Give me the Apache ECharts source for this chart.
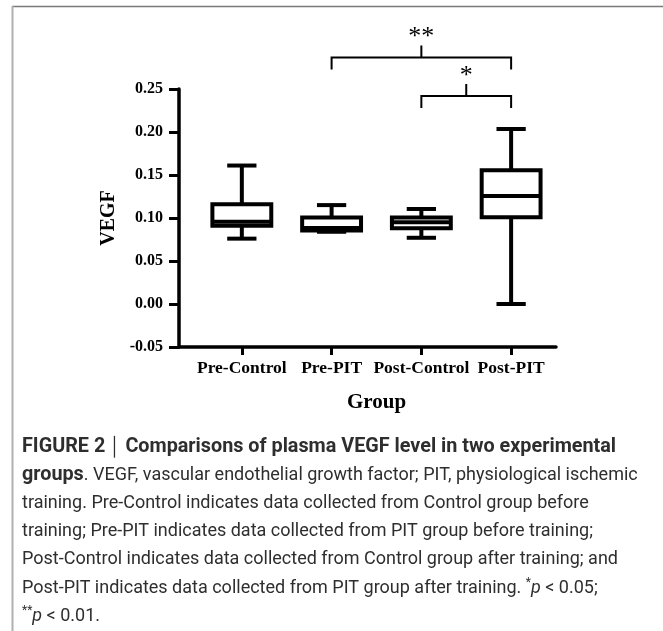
<!DOCTYPE html>
<html><head><meta charset="utf-8">
<script src="https://cdn.jsdelivr.net/npm/echarts@6/dist/echarts.min.js"></script>
<style>html,body{margin:0;padding:0;background:#fff}#chart{width:663px;height:631px}</style>
</head><body><div id="chart"></div>
<script>
// ---- data ----
const categories = ['Pre-Control', 'Pre-PIT', 'Post-Control', 'Post-PIT'];
const mins    = [0.076, 0.084, 0.077, 0.000];
const q1s     = [0.091, 0.0855, 0.088, 0.101];
const medians = [0.0955, 0.0885, 0.095, 0.1255];
const q3s     = [0.116, 0.1005, 0.1005, 0.1555];
const maxs    = [0.161, 0.115, 0.1105, 0.2035];
const sigPairs  = [[2, 3], [1, 3]];
const sigLabels = ['*', '**'];
const yAxisName = 'VEGF';
const xAxisName = 'Group';

const catIdx = categories.map((c, i) => i);
const boxData = categories.map((c, i) => [i, mins[i], q1s[i], medians[i], q3s[i], maxs[i]]);
const sigData = sigPairs.map((p, k) => [p[0], p[1], k]);

const serif = "'Liberation Serif', 'Times New Roman', serif";
const chart = echarts.init(document.getElementById('chart'), null, {renderer: 'canvas'});

function boxItem(params, api) {
  const i = api.value(0);
  const unit = api.size([1, 0])[0];
  const hb = unit * 0.328, hc = unit * 0.163;
  const cx = api.coord([i, 0])[0];
  const yMin = api.coord([i, api.value(1)])[1];
  const yQ1 = api.coord([i, api.value(2)])[1];
  const yMed = api.coord([i, api.value(3)])[1];
  const yQ3 = api.coord([i, api.value(4)])[1];
  const yMax = api.coord([i, api.value(5)])[1];
  const st = {stroke: '#000', lineWidth: 4, fill: null};
  return {type: 'group', children: [
    {type: 'line', shape: {x1: cx, y1: yMax, x2: cx, y2: yQ3}, style: st},
    {type: 'line', shape: {x1: cx, y1: yQ1, x2: cx, y2: yMin}, style: st},
    {type: 'line', shape: {x1: cx - hc, y1: yMax, x2: cx + hc, y2: yMax}, style: st},
    {type: 'line', shape: {x1: cx - hc, y1: yMin, x2: cx + hc, y2: yMin}, style: st},
    {type: 'rect', shape: {x: cx - hb, y: yQ3, width: 2 * hb, height: yQ1 - yQ3}, style: {stroke: '#000', lineWidth: 4, fill: '#fff'}},
    {type: 'line', shape: {x1: cx - hb, y1: yMed, x2: cx + hb, y2: yMed}, style: st}
  ]};
}

function sigItem(params, api) {
  const a = api.value(0), b = api.value(1), k = api.value(2);
  let top = -Infinity;
  for (let j = a; j <= b; j++) top = Math.max(top, maxs[j]);
  const baseY = api.coord([b, top])[1];
  const y = baseY - 33 - 38.5 * k;
  const xa = api.coord([a, 0])[0], xb = api.coord([b, 0])[0];
  const xm = (xa + xb) / 2;
  const st = {stroke: '#000', lineWidth: 2, fill: null};
  return {type: 'group', children: [
    {type: 'polyline', shape: {points: [[xa, y + 12], [xa, y], [xb, y], [xb, y + 12]]}, style: st},
    {type: 'line', shape: {x1: xm, y1: y, x2: xm, y2: y - 12}, style: st},
    {type: 'text', x: xm, y: y - 20, style: {text: sigLabels[params.dataIndex], fontFamily: serif, fontSize: 26, fill: '#000', align: 'center', verticalAlign: 'middle'}}
  ]};
}

const caption =
  '{b|FIGURE 2}{n| }{sep|│}{n| }{b|Comparisons of plasma VEGF level in two experimental}\n' +
  '{b|groups}{n|. VEGF, vascular endothelial growth factor; PIT, physiological ischemic}\n' +
  '{n|training. Pre-Control indicates data collected from Control group before}\n' +
  '{n|training; Pre-PIT indicates data collected from PIT group before training;}\n' +
  '{n|Post-Control indicates data collected from Control group after training; and}\n' +
  '{n|Post-PIT indicates data collected from PIT group after training. }{sup|*}{i|p}{n| < 0.05;}\n' +
  '{sup|**}{i|p}{n| < 0.01.}';

const capFont = "Roboto, 'Liberation Sans', sans-serif";
const capColor = '#2e2e2e';
const LH = 28.2;

chart.setOption({
  animation: false,
  backgroundColor: '#fff',
  grid: {left: 179, right: 107, top: 89, bottom: 284, containLabel: false},
  xAxis: {
    type: 'value', min: -0.7, max: 3.5,
    name: xAxisName, nameLocation: 'middle', nameGap: 45,
    nameTextStyle: {fontFamily: serif, fontWeight: 'bold', fontSize: 21, color: '#000', padding: [0, 0, 0, 18]},
    axisLine: {show: true, onZero: false, lineStyle: {color: '#000', width: 3.5}},
    axisTick: {show: true, customValues: catIdx, length: 8, lineStyle: {color: '#000', width: 3}},
    axisLabel: {show: true, customValues: catIdx, margin: 12, fontFamily: serif, fontWeight: 'bold', fontSize: 17.5, color: '#000',
      formatter: v => categories[Math.round(v)] || ''},
    splitLine: {show: false}
  },
  yAxis: {
    type: 'value', min: -0.05, max: 0.25, interval: 0.05,
    name: yAxisName, nameLocation: 'middle', nameGap: 56,
    nameTextStyle: {fontFamily: serif, fontWeight: 'bold', fontSize: 20, color: '#000'},
    axisLine: {show: true, onZero: false, lineStyle: {color: '#000', width: 3.5}},
    axisTick: {show: true, length: 10, lineStyle: {color: '#000', width: 3}},
    axisLabel: {margin: 16, fontFamily: serif, fontWeight: 'bold', fontSize: 16, color: '#000',
      formatter: v => v.toFixed(2)},
    splitLine: {show: false}
  },
  series: [
    {type: 'custom', renderItem: boxItem, data: boxData, encode: {x: 0, y: [1, 2, 3, 4, 5]}, clip: false, z: 3},
    {type: 'custom', renderItem: sigItem, data: sigData, encode: {x: [0, 1]}, clip: false, z: 3}
  ],
  graphic: [
    {type: 'line', shape: {x1: 12, y1: 6.5, x2: 663, y2: 6.5}, style: {stroke: '#7a7a7a', lineWidth: 1.5}},
    {type: 'line', shape: {x1: 12.5, y1: 6, x2: 12.5, y2: 631}, style: {stroke: '#b0b0b0', lineWidth: 2}},
    {type: 'text', x: 22, y: 447 - LH / 2, style: {
      text: caption, align: 'left', verticalAlign: 'top',
      fontFamily: capFont, fontSize: 18, fill: capColor, lineHeight: LH,
      rich: {
        n: {fontFamily: capFont, fontSize: 18, color: capColor, lineHeight: LH},
        b: {fontFamily: capFont, fontSize: 19.8, fontWeight: 'bold', color: '#1e1e1e', lineHeight: LH},
        sep: {fontFamily: capFont, fontSize: 18, color: '#999', lineHeight: LH},
        i: {fontFamily: capFont, fontSize: 18, fontStyle: 'italic', color: capColor, lineHeight: LH},
        sup: {fontFamily: capFont, fontSize: 12, color: capColor, lineHeight: 12, padding: [0, 0, 10, 0]}
      }
    }}
  ]
});
</script>
</body></html>
